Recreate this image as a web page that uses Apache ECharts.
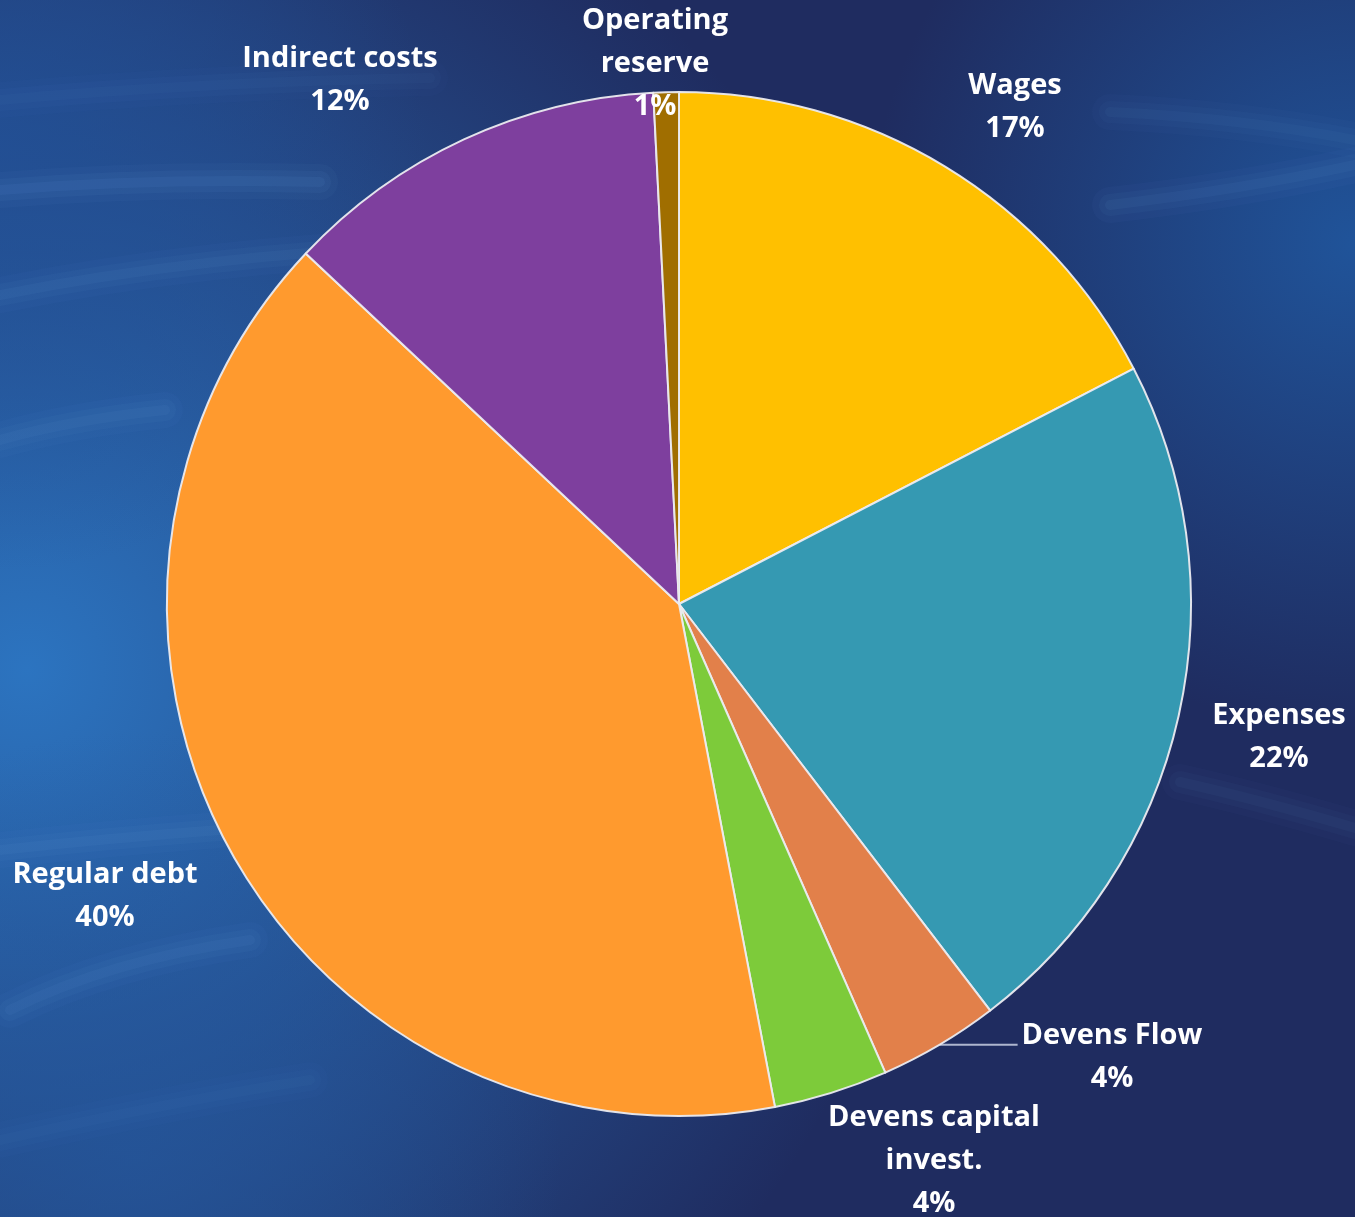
<!DOCTYPE html>
<html>
<head>
<meta charset="utf-8">
<script src="https://cdn.jsdelivr.net/npm/echarts@6/dist/echarts.min.js"></script>
<style>
  html, body { margin: 0; padding: 0; background: #1f2c60; }
  #chart { width: 1355px; height: 1217px; }
</style>
</head>
<body>
<div id="chart"></div>
<script>
// ---- data (percent shares) ----
var categories = ['Wages', 'Expenses', 'Devens Flow', 'Devens capital\ninvest.', 'Regular debt', 'Indirect costs', 'Operating\nreserve'];
var shares = [17.4, 22.2, 3.8, 3.6, 40.0, 12.2, 0.8];
var sliceColors = ['#FFC000', '#3599B2', '#E2804A', '#7DCB3A', '#FF9A2E', '#7E3F9E', '#A06E00'];
var leaderLines = [false, false, true, false, false, false, false];

// label anchor points (text layout only)
var labelSpots = {
  'Wages': [1015, 107],
  'Expenses': [1279, 737],
  'Devens Flow': [1112, 1057],
  'Devens capital\ninvest.': [934, 1161],
  'Regular debt': [105, 896],
  'Indirect costs': [340, 80],
  'Operating\nreserve': [655, 64]
};

var chart = echarts.init(document.getElementById('chart'), null, { renderer: 'canvas' });

var W = 1355, H = 1217;
function blob(cx, cy, r, color) {
  return {
    type: 'rect', silent: true, z: -10,
    shape: { x: 0, y: 0, width: W, height: H },
    style: { fill: new echarts.graphic.RadialGradient(cx, cy, r, [
      { offset: 0, color: color },
      { offset: 1, color: color.replace(/[\d.]+\)$/, '0)') }
    ]) }
  };
}
function streak(x1, y1, cx, cy, x2, y2, alpha) {
  var out = [];
  [[36, alpha * 0.25], [22, alpha * 0.35], [10, alpha * 0.45]].forEach(function (s) {
    out.push({
      type: 'bezierCurve', silent: true, z: -9,
      shape: { x1: x1, y1: y1, cpx1: cx, cpy1: cy, x2: x2, y2: y2 },
      style: {
        stroke: 'rgba(120,175,240,' + s[1] + ')', lineWidth: s[0], fill: null, lineCap: 'round'
      }
    });
  });
  return out;
}

var seriesData = categories.map(function (c, i) {
  return {
    name: c,
    value: shares[i],
    itemStyle: { color: sliceColors[i] },
    labelLine: { show: leaderLines[i] }
  };
});

var graphics = [
  { type: 'rect', silent: true, z: -11, shape: { x: 0, y: 0, width: W, height: H }, style: { fill: '#1f2c60' } },
  blob(0.02, 0.55, 0.75, 'rgba(44,116,192,1)'),
  blob(0.0, 0.12, 0.35, 'rgba(34,80,150,0.8)'),
  blob(1.0, 0.2, 0.4, 'rgba(32,88,160,0.9)'),
  blob(0.1, 0.95, 0.35, 'rgba(36,86,155,0.7)')
].concat(
  streak(0, 295, 200, 255, 440, 245, 0.12),
  streak(0, 190, 150, 178, 320, 182, 0.16),
  streak(0, 100, 200, 82, 430, 78, 0.08),
  streak(0, 440, 70, 420, 165, 410, 0.12),
  streak(0, 850, 110, 838, 220, 830, 0.12),
  streak(10, 1010, 110, 960, 250, 940, 0.12),
  streak(0, 1140, 180, 1100, 310, 1080, 0.08),
  streak(1110, 112, 1240, 118, 1355, 140, 0.10),
  streak(1110, 205, 1240, 190, 1355, 165, 0.12),
  streak(1180, 782, 1260, 800, 1355, 828, 0.10)
);

chart.setOption({
  backgroundColor: '#1f2c60',
  animation: false,
  graphic: graphics,
  series: [{
    type: 'pie',
    z: 5,
    center: [679, 604],
    radius: 512,
    startAngle: 90,
    clockwise: true,
    percentPrecision: 0,
    avoidLabelOverlap: false,
    data: seriesData,
    itemStyle: { borderColor: 'rgba(235,235,240,0.95)', borderWidth: 2 },
    label: {
      show: true,
      position: 'outside',
      formatter: '{b}\n{d}%',
      color: '#ffffff',
      fontFamily: '"Open Sans", Lato, sans-serif',
      fontWeight: 'bold',
      fontSize: 29,
      lineHeight: 43,
      align: 'center'
    },
    labelLine: {
      length: 10,
      length2: 10,
      lineStyle: { color: '#aeb6cf', width: 2 }
    },
    labelLayout: function (p) {
      var spot = labelSpots[categories[p.dataIndex]];
      var res = { x: spot[0], y: spot[1], align: 'center', verticalAlign: 'middle' };
      if (leaderLines[p.dataIndex] && p.labelLinePoints && p.labelLinePoints.length) {
        var a = p.labelLinePoints[0];
        var left = spot[0] - p.labelRect.width / 2 - 4;
        res.labelLinePoints = [[a[0], a[1]], [left, a[1]], [left, a[1]]];
      }
      return res;
    }
  }]
});
</script>
</body>
</html>
